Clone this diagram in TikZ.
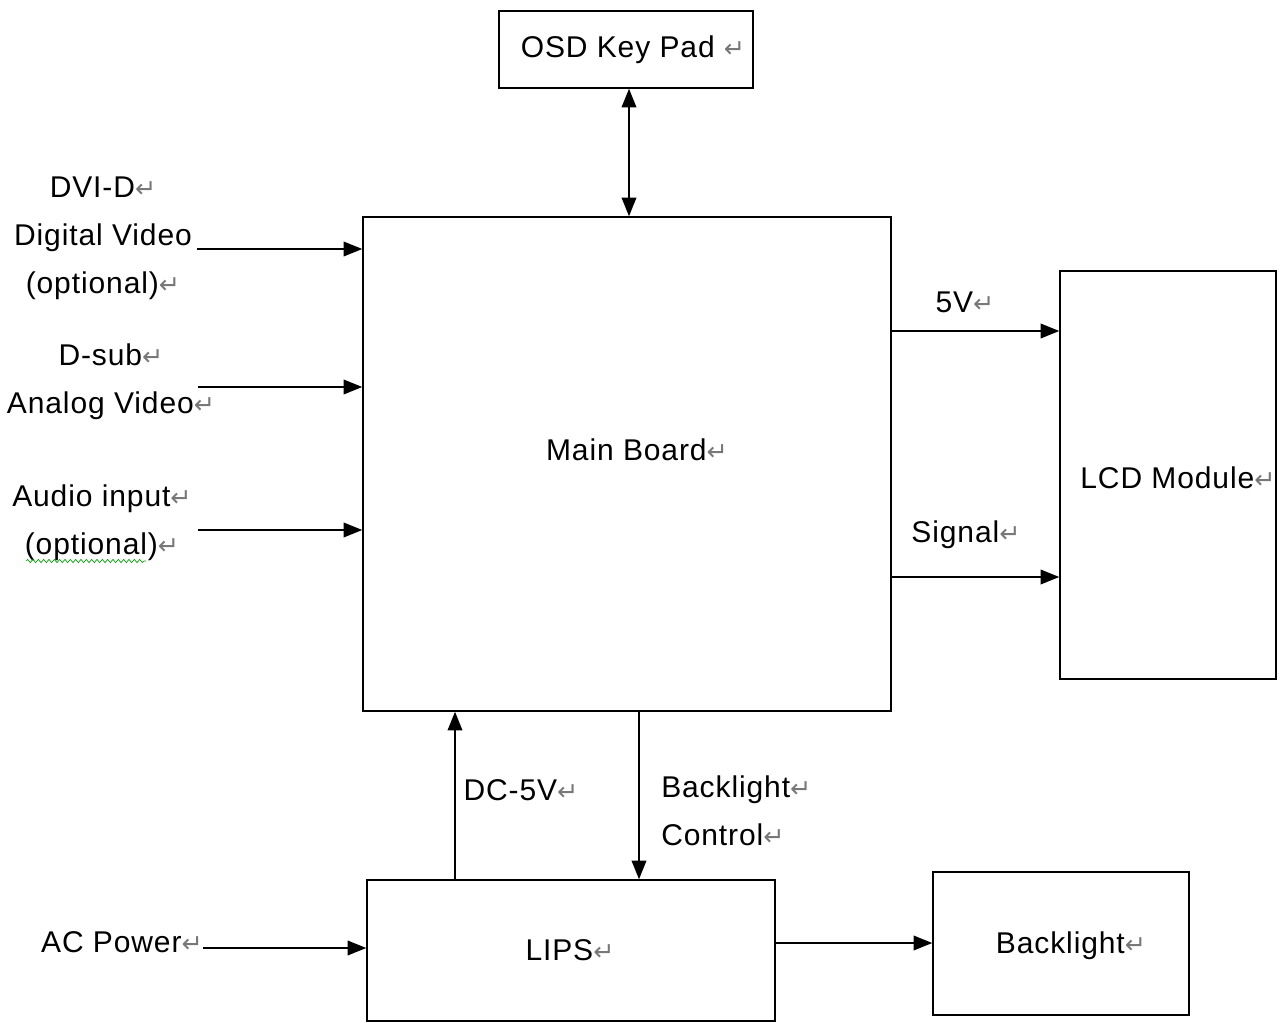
\documentclass[tikz,border=0pt]{standalone}
\usepackage{fontspec}
\setmainfont{Liberation Sans}[LetterSpace=3.0]
\newfontfamily\retfont{DejaVu Sans}
\usetikzlibrary{arrows.meta,calc,decorations.pathmorphing}
\definecolor{retgray}{RGB}{120,120,120}
\newcommand\rmark{{\retfont\fontsize{19}{19}\selectfont\textcolor{retgray}{↵}}}
\begin{document}
\begin{tikzpicture}[x=0.75pt,y=-0.75pt,
  box/.style={draw,line width=1.1pt,inner sep=0pt},
  lbl/.style={inner sep=0pt,font=\fontsize{22.5}{36}\selectfont},
  arr/.style={line width=1.1pt,-{Triangle[length=14pt,width=11pt]}},
  both/.style={line width=1.1pt,{Triangle[length=14pt,width=11pt]}-{Triangle[length=14pt,width=11pt]}}]
\useasboundingbox (0,0) rectangle (1281,1023);
% boxes
\node[box,minimum width=190.5pt,minimum height=57.75pt] (osd) at (626,49.5) {};
\node[lbl] (osdt) at (633,50) {OSD Key Pad \rmark};
\node[box,minimum width=396pt,minimum height=370.5pt] (mb) at (627,464) {};
\node[lbl] (mbt) at (637,450) {Main Board\rmark};
\node[box,minimum width=162pt,minimum height=306pt] (lcd) at (1168,475) {};
\node[lbl] (lcdt) at (1178,478) {LCD Module\rmark};
\node[box,minimum width=306pt,minimum height=105.75pt] (lips) at (571,950.5) {};
\node[lbl] (lipst) at (570,950) {LIPS\rmark};
\node[box,minimum width=192pt,minimum height=107.25pt] (bl) at (1061,943.5) {};
\node[lbl] (blt) at (1071,946) {Backlight\rmark};
% left labels
\node[lbl,align=center] (dvi) at (103,238) {DVI-D\rmark\\Digital Video\\(optional)\rmark};
\node[lbl,align=center] (dsub) at (111,382) {D-sub\rmark\\Analog Video\rmark};
\node[lbl,align=center] (aud) at (102,523) {Audio input\rmark\\(optional)\rmark};
\node[lbl] (ac) at (122,942) {AC Power\rmark};
% other labels
\node[lbl] (v5) at (965,302) {5V\rmark};
\node[lbl] (sig) at (966,535) {Signal\rmark};
\node[lbl] (dc) at (521,790) {DC-5V\rmark};
\node[lbl,align=left,anchor=west] (blc) at (661,811) {Backlight\rmark\\Control\rmark};
% spell-check underline
\draw[green!60!black,line width=0.5pt,decorate,decoration={snake,amplitude=1.2pt,segment length=4pt}] (26,561) -- (146,561);
% coordinates for free ends and lines
\coordinate (dviS) at (197,249);
\coordinate (dsubS) at (198,387);
\coordinate (audS) at (198,530);
\coordinate (acS) at (203,948);
\coordinate (y5) at (0,331);
\coordinate (ysig) at (0,577);
\coordinate (xdc) at (455,0);
\coordinate (xbc) at (639,0);
\coordinate (xosd) at (629,0);
\coordinate (ybl) at (0,943);
% connectors
\draw[both] (osd.south -| xosd) -- (mb.north -| xosd);
\draw[arr] (dviS) -- (dviS -| mb.west);
\draw[arr] (dsubS) -- (dsubS -| mb.west);
\draw[arr] (audS) -- (audS -| mb.west);
\draw[arr] (mb.east |- y5) -- (lcd.west |- y5);
\draw[arr] (mb.east |- ysig) -- (lcd.west |- ysig);
\draw[arr] (lips.north -| xdc) -- (mb.south -| xdc);
\draw[arr] (mb.south -| xbc) -- (lips.north -| xbc);
\draw[arr] (acS) -- (acS -| lips.west);
\draw[arr] (lips.east |- ybl) -- (bl.west |- ybl);
\end{tikzpicture}
\end{document}
